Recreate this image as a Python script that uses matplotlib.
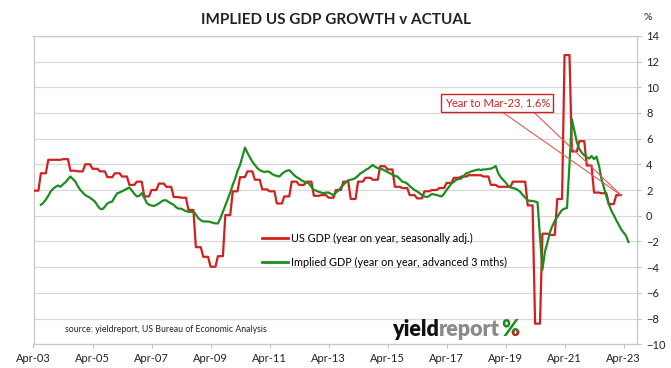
import numpy as np
import pandas as pd
import matplotlib
matplotlib.use("Agg")
import matplotlib.pyplot as plt
import matplotlib.dates as mdates
from matplotlib.transforms import Bbox

plt.rcParams["font.family"] = ["Lato", "DejaVu Sans"]

RED = "#d21f1f"
GREEN = "#1f8c1f"
GRID = "#d9d9d9"
INK = "#222222"

# US GDP, year on year, quarterly (Q2-03 .. Q1-23), shown monthly
gdp_q = [1.95, 3.3, 4.35,
         4.35, 4.4, 3.5, 3.45,
         4.0, 3.65, 3.45, 3.0,
         3.3, 3.05, 2.4, 2.65,
         1.5, 2.0, 2.5, 2.25,
         1.45, 1.4, 0.45, -2.45,
         -3.2, -3.97, -3.15, 0.05,
         1.9, 3.0, 3.45, 2.8,
         2.05, 1.9, 0.95, 1.5,
         2.65, 2.4, 2.65, 1.55,
         1.6, 1.4, 2.0, 2.65,
         1.3, 2.65, 2.95, 2.8,
         3.85, 3.6, 2.25, 2.15,
         1.6, 1.35, 1.9, 2.0,
         2.15, 2.55, 2.95, 3.05,
         3.15, 3.15, 3.05, 2.4,
         2.25, 2.25, 2.65, 2.65,
         0.8, -8.4, -1.4, -1.5,
         1.3, 12.5, 5.0, 5.8,
         3.9, 1.8, 1.75, 0.9,
         1.6]
gdp_dates = pd.date_range("2003-04-01", periods=len(gdp_q) * 3, freq="MS")
gdp = np.repeat(gdp_q, 3)

# implied GDP (advanced 3 months), monthly Jul-03 .. Jun-23
implied = [
    0.85, 1.0, 1.25, 1.55, 1.9, 2.1, 2.25, 2.35, 2.25, 2.45, 2.6, 2.85,
    3.05, 2.85, 2.65, 2.3, 2.0, 1.8, 1.6, 1.5, 1.4, 1.25, 1.1, 0.8,
    0.55, 0.5, 0.7, 0.95, 1.05, 1.1, 1.45, 1.75, 1.8, 1.9, 2.0, 2.1,
    2.2, 1.95, 1.7, 1.5, 1.55, 1.75, 1.4, 1.0, 0.85, 0.8, 0.75, 0.85,
    0.95, 1.1, 1.2, 1.2, 1.05, 0.95, 0.85, 0.65, 0.55, 0.55, 0.45, 0.35,
    0.3, 0.3, 0.3, 0.1, -0.2, -0.35, -0.45, -0.45, -0.45, -0.5, -0.55, -0.6,
    -0.6, -0.2, 0.3, 0.8, 1.3, 1.8, 2.4, 2.9, 3.5, 3.95, 4.6, 5.3,
    4.9, 4.55, 4.2, 3.95, 3.7, 3.55, 3.45, 3.4, 3.45, 3.4, 3.25, 3.15,
    3.1, 3.05, 3.25, 3.4, 3.5, 3.55, 3.35, 3.15, 3.0, 2.9, 2.75, 2.65,
    2.6, 2.5, 2.25, 2.0, 1.95, 1.85, 1.8, 1.75, 1.8, 1.8, 1.7, 1.6,
    1.8, 1.95, 2.2, 2.4, 2.6, 2.75, 2.8, 2.85, 2.95, 3.1, 3.3, 3.4,
    3.55, 3.65, 3.8, 3.95, 3.8, 3.7, 3.65, 3.6, 3.5, 3.4, 3.3, 3.2,
    3.1, 3.05, 2.85, 2.65, 2.6, 2.5, 2.3, 2.15, 2.0, 1.9, 1.75, 1.6,
    1.5, 1.45, 1.55, 1.7, 1.65, 1.6, 1.55, 1.5, 1.7, 2.0, 2.25, 2.5,
    2.65, 2.8, 2.85, 2.9, 3.1, 3.3, 3.35, 3.45, 3.5, 3.55, 3.6, 3.55,
    3.6, 3.6, 3.65, 3.65, 3.75, 3.87, 3.3, 3.0, 2.8, 2.6, 2.35, 2.2,
    2.15, 2.1, 2.0, 1.85, 1.6, 1.4, 1.2, 1.15, 1.15, 1.1, 1.05, -1.6,
    -4.2, -2.8, -2.1, -1.3, -0.8, -0.4, -0.1, 0.2, 0.45, 0.55, 0.6, 4.0,
    7.5, 6.6, 5.7, 5.2, 4.9, 4.7, 4.55, 4.45, 4.65, 4.4, 4.6, 3.9,
    2.9, 2.2, 1.5, 0.9, 0.4, 0.05, -0.35, -0.7, -1.05, -1.3, -1.55, -2.05,
]
implied_dates = pd.date_range("2003-07-01", periods=len(implied), freq="MS")

yticks = np.arange(-10, 15, 2)
xtick_dates = pd.date_range("2003-04-01", "2023-04-01", freq="24MS")

fig = plt.figure(figsize=(6.71, 3.68), dpi=100)
ax = fig.add_axes([33.5 / 671, 1 - 344.2 / 368, 603.5 / 671, 308.4 / 368])

ax.plot(gdp_dates, gdp, color=RED, lw=1.6, zorder=3,
        label="US GDP (year on year, seasonally adj.)")
ax.plot(implied_dates, implied, color=GREEN, lw=1.6, zorder=3,
        label="Implied GDP (year on year, advanced 3 mths)")

ax.set_xlim(pd.Timestamp("2003-04-01"), pd.Timestamp("2023-09-15"))
ax.set_ylim(-10, 14)
ax.set_yticks(yticks)
ax.yaxis.tick_right()
ax.set_xticks(xtick_dates)
ax.xaxis.set_major_formatter(mdates.DateFormatter("%b-%y"))
ax.tick_params(axis="both", labelsize=8, colors="#bfbfbf", labelcolor=INK,
               length=3, width=0.8)
ax.grid(axis="y", color=GRID, lw=0.9)
ax.set_axisbelow(True)
for s in ax.spines.values():
    s.set_color("#c8c8c8")
    s.set_linewidth(0.9)

leg = ax.legend(loc="upper left", bbox_to_anchor=(262 / 671, 1 - 233 / 368),
                bbox_transform=fig.transFigure, frameon=False, fontsize=7.8,
                handlelength=2.4, handletextpad=0.25, labelspacing=1.2,
                borderpad=0, borderaxespad=0)
for line in leg.get_lines():
    line.set_linewidth(2)

# callout for the last actual reading
tip_x, tip_y = gdp_dates[-1], gdp[-1]
for base in ["2019-02-01", "2020-03-01"]:
    ax.plot([pd.Timestamp(base), tip_x], [8.15, tip_y], color="#e35a5a",
            lw=0.8, zorder=4)
ax.text(pd.Timestamp("2018-12-20"), 8.77, f"Year to Mar-23, {tip_y:.1f}%",
        color=RED, fontsize=8, ha="center", va="center", zorder=5,
        bbox=dict(boxstyle="square,pad=0.3", fc="white", ec=RED, lw=1))

fig.text(0.5, 1 - 20 / 368, "IMPLIED US GDP GROWTH v ACTUAL", ha="center",
         va="center", fontsize=11, fontweight="bold", color=INK)
fig.text(648 / 671, 1 - 17 / 368, "%", ha="center", va="center", fontsize=7.5,
         color=INK)
fig.text(65 / 671, 1 - 330 / 368, "source: yieldreport, US Bureau of Economic Analysis",
         ha="left", va="center", fontsize=6.3, color=INK)

# yieldreport logo
t1 = fig.text(392 / 671, 1 - 336 / 368, "yield", ha="left", va="baseline",
              fontsize=15.5, fontweight="heavy", color="#111111")
fig.canvas.draw()
r = fig.canvas.get_renderer()
bb = t1.get_window_extent(r)
t2 = fig.text(bb.x1 / fig.bbox.width, 1 - 336 / 368, "report", ha="left",
              va="baseline", fontsize=15.5, fontweight="heavy", color="#8a8a8a")
bb2 = t2.get_window_extent(r)
pct_x = bb2.x1 / fig.bbox.width + 0.002
fig.text(pct_x, 1 - 336 / 368, "%", ha="left", va="baseline",
         fontsize=15.5, fontweight="heavy", color=GREEN)
p2 = fig.text(pct_x, 1 - 336 / 368, "%", ha="left", va="baseline",
              fontsize=15.5, fontweight="heavy", color="#cc1f1f")
pb = p2.get_window_extent(r)
p2.set_clip_box(Bbox.from_extents(pb.x0 + pb.width * 0.5, pb.y0 - 2,
                                  pb.x1 + 2, pb.y0 + pb.height * 0.45))
p2.set_clip_on(True)

fig.savefig("out.png", dpi=100)
